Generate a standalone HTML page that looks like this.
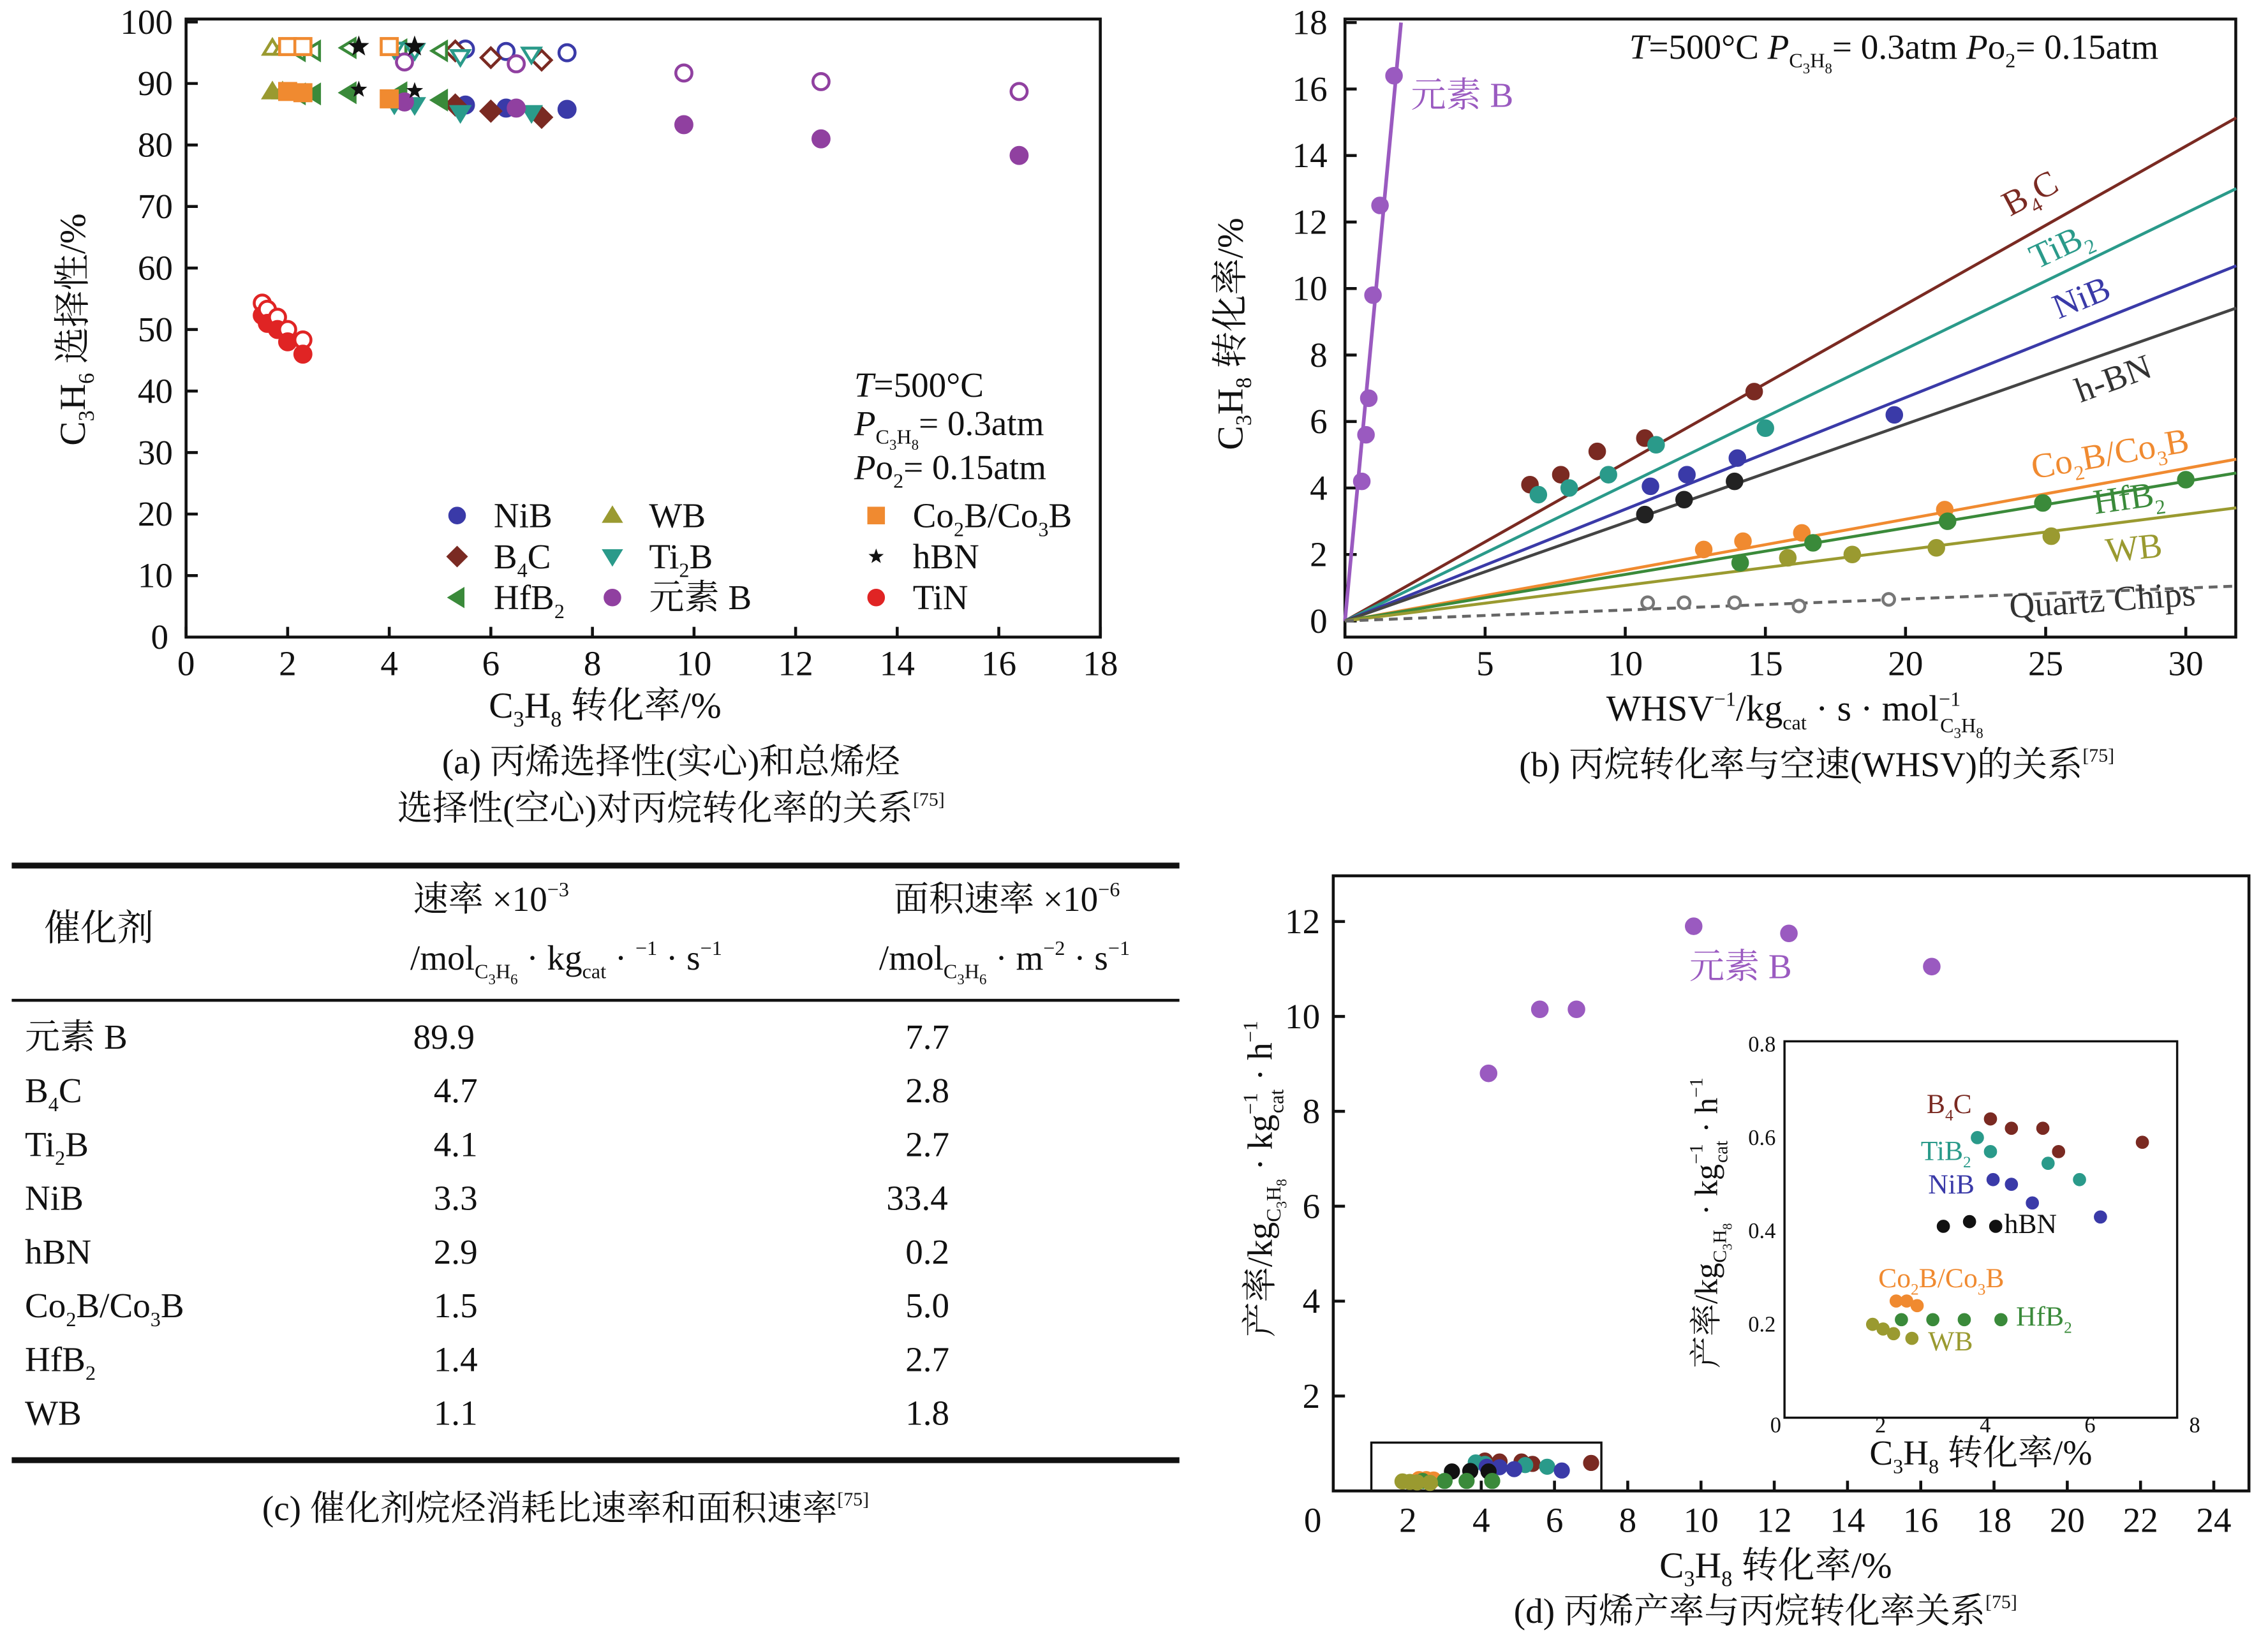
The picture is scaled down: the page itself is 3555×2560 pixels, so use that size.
<!DOCTYPE html>
<html><head><meta charset="utf-8">
<style>
html,body{margin:0;padding:0;background:#fff;}
svg{display:block;}
text{font-family:"Liberation Serif","Noto Serif CJK SC",serif;fill:#111;}
</style></head>
<body>
<svg id="fig" width="3555" height="2560" viewBox="0 0 1548 1115" preserveAspectRatio="none" xmlns="http://www.w3.org/2000/svg">
<rect width="1548" height="1115" fill="#fff"/>

<!-- ===== Panel A ===== -->
<g id="pa">
<rect x="127" y="13" width="624" height="422" fill="none" stroke="#111" stroke-width="2"/>
<g id="pa-axes" font-size="24"></g>
<g id="pa-marks"></g>
<text transform="translate(58,225) rotate(-90)" text-anchor="middle" font-size="25">C<tspan font-size="15" dy="6">3</tspan><tspan dy="-6">H</tspan><tspan font-size="15" dy="6">6</tspan><tspan dy="-6"> 选择性/%</tspan></text>
<text x="413" y="490" text-anchor="middle" font-size="25">C<tspan font-size="15" dy="6">3</tspan><tspan dy="-6">H</tspan><tspan font-size="15" dy="6">8</tspan><tspan dy="-6"> 转化率/%</tspan></text>
<g font-size="24" font-style="normal">
<text x="583" y="271"><tspan font-style="italic">T</tspan>=500°C</text>
<text x="583" y="297"><tspan font-style="italic">P</tspan><tspan font-size="14" dy="6">C</tspan><tspan font-size="10" dy="4">3</tspan><tspan font-size="14" dy="-4">H</tspan><tspan font-size="10" dy="4">8</tspan><tspan dy="-10">= 0.3atm</tspan></text>
<text x="583" y="327"><tspan font-style="italic">P</tspan>o<tspan font-size="14" dy="6">2</tspan><tspan dy="-6">= 0.15atm</tspan></text>
</g>
<g id="pa-legend" font-size="24"></g>
<text x="458" y="528" text-anchor="middle" font-size="24">(a) 丙烯选择性(实心)和总烯烃</text>
<text x="458" y="560" text-anchor="middle" font-size="24">选择性(空心)对丙烷转化率的关系<tspan font-size="13" dy="-10">[75]</tspan></text>
</g>

<!-- ===== Panel B ===== -->
<g id="pb">
<rect x="918" y="13" width="608" height="422" fill="none" stroke="#111" stroke-width="2"/>
<g id="pb-axes" font-size="24"></g>
<g id="pb-marks"></g>
<text x="1112" y="40" font-size="24"><tspan font-style="italic">T</tspan>=500°C <tspan font-style="italic">P</tspan><tspan font-size="14" dy="6">C</tspan><tspan font-size="10" dy="4">3</tspan><tspan font-size="14" dy="-4">H</tspan><tspan font-size="10" dy="4">8</tspan><tspan dy="-10">= 0.3atm </tspan><tspan font-style="italic">P</tspan>o<tspan font-size="14" dy="6">2</tspan><tspan dy="-6">= 0.15atm</tspan></text>
<text transform="translate(848,228) rotate(-90)" text-anchor="middle" font-size="25">C<tspan font-size="15" dy="6">3</tspan><tspan dy="-6">H</tspan><tspan font-size="15" dy="6">8</tspan><tspan dy="-6"> 转化率/%</tspan></text>
<text x="1225" y="492" text-anchor="middle" font-size="25">WHSV<tspan font-size="14" dy="-10">−1</tspan><tspan dy="10">/kg</tspan><tspan font-size="14" dy="6">cat</tspan><tspan dy="-6"> · s · mol</tspan><tspan font-size="14" dy="-10">−1</tspan><tspan font-size="14" dx="-14" dy="18">C</tspan><tspan font-size="10" dy="4">3</tspan><tspan font-size="14" dy="-4">H</tspan><tspan font-size="10" dy="4">8</tspan></text>
<text x="1240" y="530" text-anchor="middle" font-size="24">(b) 丙烷转化率与空速(WHSV)的关系<tspan font-size="13" dy="-10">[75]</tspan></text>
</g>

<!-- ===== Table C ===== -->
<g id="pc">
<rect x="8" y="589" width="797" height="4" fill="#111"/>
<rect x="8" y="682" width="797" height="2" fill="#111"/>
<rect x="8" y="995" width="797" height="4" fill="#111"/>
<text x="30" y="642" font-size="25">催化剂</text>
<text x="282" y="622" font-size="24">速率 ×10<tspan font-size="14" dy="-10">−3</tspan></text>
<text x="280" y="662" font-size="24">/mol<tspan font-size="14" dy="6">C</tspan><tspan font-size="10" dy="4">3</tspan><tspan font-size="14" dy="-4">H</tspan><tspan font-size="10" dy="4">6</tspan><tspan dy="-10"> · kg</tspan><tspan font-size="14" dy="6">cat</tspan><tspan dy="-6"> · </tspan><tspan font-size="14" dy="-10">−1</tspan><tspan dy="10"> · s</tspan><tspan font-size="14" dy="-10">−1</tspan></text>
<text x="610" y="622" font-size="24">面积速率 ×10<tspan font-size="14" dy="-10">−6</tspan></text>
<text x="600" y="662" font-size="24">/mol<tspan font-size="14" dy="6">C</tspan><tspan font-size="10" dy="4">3</tspan><tspan font-size="14" dy="-4">H</tspan><tspan font-size="10" dy="4">6</tspan><tspan dy="-10"> · m</tspan><tspan font-size="14" dy="-10">−2</tspan><tspan dy="10"> · s</tspan><tspan font-size="14" dy="-10">−1</tspan></text>
<g id="pc-rows" font-size="24"></g>
<text x="386" y="1038" text-anchor="middle" font-size="24">(c) 催化剂烷烃消耗比速率和面积速率<tspan font-size="13" dy="-10">[75]</tspan></text>
</g>

<!-- ===== Panel D ===== -->
<g id="pd">
<rect x="910" y="598" width="625" height="420" fill="none" stroke="#111" stroke-width="2"/>
<g id="pd-axes" font-size="24"></g>
<rect x="936" y="985" width="157" height="33" fill="none" stroke="#111" stroke-width="1.5"/>
<g id="pd-marks"></g>
<text x="1153" y="668" font-size="24" fill="#9a5ac0" style="fill:#9a5ac0">元素 B</text>
<rect x="1218" y="711" width="268" height="257" fill="none" stroke="#111" stroke-width="1.5"/>
<g id="pd-inset-axes" font-size="15"></g>
<g id="pd-inset-marks"></g>
<text transform="translate(868,805) rotate(-90)" text-anchor="middle" font-size="24">产率/kg<tspan font-size="14" dy="6">C</tspan><tspan font-size="10" dy="4">3</tspan><tspan font-size="14" dy="-4">H</tspan><tspan font-size="10" dy="4">8</tspan><tspan dy="-10"> · kg</tspan><tspan font-size="14" dy="-10">−1</tspan><tspan font-size="14" dx="-14" dy="18">cat</tspan><tspan dy="-8"> · h</tspan><tspan font-size="14" dy="-10">−1</tspan></text>
<text transform="translate(1172,835) rotate(-90)" text-anchor="middle" font-size="22">产率/kg<tspan font-size="13" dy="6">C</tspan><tspan font-size="9" dy="4">3</tspan><tspan font-size="13" dy="-4">H</tspan><tspan font-size="9" dy="4">8</tspan><tspan dy="-10"> · kg</tspan><tspan font-size="13" dy="-10">−1</tspan><tspan font-size="13" dx="-13" dy="17">cat</tspan><tspan dy="-7"> · h</tspan><tspan font-size="13" dy="-10">−1</tspan></text>
<text x="1352" y="1000" text-anchor="middle" font-size="24">C<tspan font-size="14" dy="6">3</tspan><tspan dy="-6">H</tspan><tspan font-size="14" dy="6">8</tspan><tspan dy="-6"> 转化率/%</tspan></text>
<text x="1212" y="1077" text-anchor="middle" font-size="25">C<tspan font-size="15" dy="6">3</tspan><tspan dy="-6">H</tspan><tspan font-size="15" dy="6">8</tspan><tspan dy="-6"> 转化率/%</tspan></text>
<text x="1205" y="1108" text-anchor="middle" font-size="24">(d) 丙烯产率与丙烷转化率关系<tspan font-size="13" dy="-10">[75]</tspan></text>
</g>
</svg>

<script>
// ---------- Panel A data ----------
const aNames = ["NiB","B4C","HfB2","WB","TiB","元素B","Co2B","hBN","TiN"];
const aX_NiB=[5.5,6.3,7.5], aSolid_NiB=[86.5,86.0,85.8], aHollow_NiB=[95.6,95.2,95.0];
const aX_B4C=[5.3,6.0,7.0], aSolid_B4C=[86.5,85.5,84.5], aHollow_B4C=[95.3,94.2,93.8];
const aX_HfB2=[2.2,2.5,3.2,4.2,5.0], aSolid_HfB2=[88.3,88.3,88.5,88.5,87.3], aHollow_HfB2=[95.3,95.3,95.8,95.5,95.3];
const aX_WB=[1.7,1.9], aSolid_WB=[88.7,88.7], aHollow_WB=[95.8,95.8];
const aX_TiB=[4.1,4.5,5.4,6.8], aSolid_TiB=[86.6,86.5,85.2,85.2], aHollow_TiB=[95.5,95.3,94.3,94.7];
const aX_B=[4.3,6.5,9.8,12.5,16.4], aSolid_B=[87.0,86.0,83.3,81.0,78.3], aHollow_B=[93.5,93.2,91.7,90.3,88.7];
const aX_Co2B=[2.0,2.3,4.0], aSolid_Co2B=[88.7,88.5,87.5], aHollow_Co2B=[96.0,96.0,96.0];
const aX_hBN=[3.4,4.5], aSolid_hBN=[89.0,88.8], aHollow_hBN=[96.0,96.0];
const aX_TiN=[1.5,1.6,1.8,2.0,2.3], aSolid_TiN=[52.3,51.0,50.0,48.0,46.0], aHollow_TiN=[54.3,53.3,52.0,50.0,48.3];
const aXTicks=[0,2,4,6,8,10,12,14,16,18], aYTicks=[0,10,20,30,40,50,60,70,80,90,100];

// ---------- Panel B data ----------
const bX_B=[0.6,0.75,0.85,1.0,1.25,1.75], bY_B=[4.2,5.6,6.7,9.8,12.5,16.4];
const bX_B4C=[6.6,7.7,9.0,10.7,14.6], bY_B4C=[4.1,4.4,5.1,5.5,6.9];
const bX_TiB2=[6.9,8.0,9.4,11.1,15.0], bY_TiB2=[3.8,4.0,4.4,5.3,5.8];
const bX_NiB=[10.9,12.2,14.0,19.6], bY_NiB=[4.05,4.4,4.9,6.2];
const bX_hBN=[10.7,12.1,13.9], bY_hBN=[3.2,3.65,4.2];
const bX_Co2B=[12.8,14.2,16.3,21.4], bY_Co2B=[2.15,2.4,2.65,3.35];
const bX_HfB2=[14.1,16.7,21.5,24.9,30.0], bY_HfB2=[1.75,2.35,3.0,3.55,4.25];
const bX_WB=[15.8,18.1,21.1,25.2], bY_WB=[1.9,2.0,2.2,2.55];
const bX_Q=[10.8,12.1,13.9,16.2,19.4], bY_Q=[0.55,0.55,0.55,0.45,0.65];
const bSlopes=[9.0,0.476,0.409,0.336,0.296,0.153,0.14,0.107,0.033]; // B,B4C,TiB2,NiB,hBN,Co2B,HfB2,WB,Quartz
const bXTicks=[0,5,10,15,20,25,30], bYTicks=[0,2,4,6,8,10,12,14,16,18];

// ---------- Table C data ----------
const cCatalysts=["元素 B","B4C","Ti2B","NiB","hBN","Co2B/Co3B","HfB2","WB"];
const cRates=["89.9","4.7","4.1","3.3","2.9","1.5","1.4","1.1"];
const cAreaRates=["7.7","2.8","2.7","33.4","0.2","5.0","2.7","1.8"];

// ---------- Panel D data ----------
const dX_B=[4.2,5.6,6.6,9.8,12.4,16.3], dY_B=[8.8,10.15,10.15,11.9,11.75,11.05];
const iX_B4C=[4.1,4.5,5.1,5.4,7.0], iY_B4C=[0.64,0.62,0.62,0.57,0.59];
const iX_TiB2=[3.85,4.1,5.2,5.8], iY_TiB2=[0.60,0.57,0.545,0.51];
const iX_NiB=[4.15,4.5,4.9,6.2], iY_NiB=[0.51,0.50,0.46,0.43];
const iX_hBN=[3.2,3.7,4.2], iY_hBN=[0.41,0.42,0.41];
const iX_Co2B=[2.3,2.5,2.7], iY_Co2B=[0.25,0.25,0.24];
const iX_HfB2=[2.4,3.0,3.6,4.3], iY_HfB2=[0.21,0.21,0.21,0.21];
const iX_WB=[1.85,2.05,2.25,2.6], iY_WB=[0.20,0.19,0.18,0.17];
const dXTicks=[0,2,4,6,8,10,12,14,16,18,20,22,24], dYTicks=[2,4,6,8,10,12];
const iXTicks=[0,2,4,6,8], iYTicks=[0.2,0.4,0.6,0.8];

// ---------- helpers ----------
const NS="http://www.w3.org/2000/svg";
function mk(tag,attrs,parent){const e=document.createElementNS(NS,tag);for(const k in attrs)e.setAttribute(k,attrs[k]);parent.appendChild(e);return e;}
const C={NiB:"#3a3aa8",B4C:"#7a2a22",HfB2:"#3a8a3a",WB:"#9a9a30",TiB:"#2a9a8a",B:"#9040a0",Bl:"#9a5ac0",Co2B:"#f08a30",hBN:"#111",TiN:"#e02424"};

function marker(g,shape,x,y,col,filled,r){
  r=r||5.5; const f=filled?col:"#fff"; const sw=filled?0:2; let e;
  if(shape==="circle") e=mk("circle",{cx:x,cy:y,r:r,fill:f,stroke:col,"stroke-width":sw||2},g);
  else if(shape==="square") e=mk("rect",{x:x-r,y:y-r,width:2*r,height:2*r,fill:f,stroke:col,"stroke-width":sw||2},g);
  else if(shape==="diamond") e=mk("polygon",{points:`${x},${y-r*1.2} ${x+r*1.2},${y} ${x},${y+r*1.2} ${x-r*1.2},${y}`,fill:f,stroke:col,"stroke-width":sw||2},g);
  else if(shape==="up") e=mk("polygon",{points:`${x},${y-r} ${x+r*1.1},${y+r*0.8} ${x-r*1.1},${y+r*0.8}`,fill:f,stroke:col,"stroke-width":sw||2},g);
  else if(shape==="down") e=mk("polygon",{points:`${x},${y+r} ${x+r*1.1},${y-r*0.8} ${x-r*1.1},${y-r*0.8}`,fill:f,stroke:col,"stroke-width":sw||2},g);
  else if(shape==="left") e=mk("polygon",{points:`${x-r},${y} ${x+r*0.8},${y-r*1.1} ${x+r*0.8},${y+r*1.1}`,fill:f,stroke:col,"stroke-width":sw||2},g);
  else {
    let p=[];for(let i=0;i<10;i++){const a=-Math.PI/2+i*Math.PI/5;const rr=i%2?r*0.45:r*1.1;p.push((x+rr*Math.cos(a)).toFixed(1)+","+(y+rr*Math.sin(a)).toFixed(1));}
    e=mk("polygon",{points:p.join(" "),fill:col,stroke:col,"stroke-width":filled?0:1},g);
  }
  return e;
}

// ---------- Panel A ----------
const axA=x=>127+x*34.67, ayA=y=>435-y*4.2;
(function(){
  const g=document.getElementById("pa-axes");
  aXTicks.forEach(v=>{
    const l=mk("line",{x1:axA(v),x2:axA(v),y1:435,y2:428,stroke:"#111","stroke-width":2},g);
    
    
    const t=mk("text",{x:axA(v),y:461,"text-anchor":"middle"},g);t.textContent=v;
    
    
  });
  aYTicks.forEach(v=>{
    const l=mk("line",{x1:127,x2:135,y1:ayA(v),y2:ayA(v),stroke:"#111","stroke-width":2},g);
    
    
    const t=mk("text",{x:v===0?115:118,y:ayA(v)+8,"text-anchor":"end"},g);t.textContent=v;
    
    
  });
  const m=document.getElementById("pa-marks");
  const sets=[["circle",C.NiB,aX_NiB,aSolid_NiB,aHollow_NiB],["diamond",C.B4C,aX_B4C,aSolid_B4C,aHollow_B4C],
    ["left",C.HfB2,aX_HfB2,aSolid_HfB2,aHollow_HfB2],["up",C.WB,aX_WB,aSolid_WB,aHollow_WB],
    ["down",C.TiB,aX_TiB,aSolid_TiB,aHollow_TiB],["circle",C.B,aX_B,aSolid_B,aHollow_B],
    ["square",C.Co2B,aX_Co2B,aSolid_Co2B,aHollow_Co2B],["star",C.hBN,aX_hBN,aSolid_hBN,aHollow_hBN],
    ["circle",C.TiN,aX_TiN,aSolid_TiN,aHollow_TiN]];
  sets.forEach(s=>{
    s[2].forEach((x,i)=>{
      const h=marker(m,s[0],axA(x),ayA(s[4][i]),s[1],false);
      
      
      const p=marker(m,s[0],axA(x),ayA(s[3][i]),s[1],true);
      
      
    });
  });
  const lg=document.getElementById("pa-legend");
  const leg=[[312,352,"circle",C.NiB,"NiB"],[312,380,"diamond",C.B4C,"B<tspan font-size='14' dy='6'>4</tspan><tspan dy='-6'>C</tspan>"],
    [312,408,"left",C.HfB2,"HfB<tspan font-size='14' dy='6'>2</tspan>"],[418,352,"up",C.WB,"WB"],
    [418,380,"down",C.TiB,"Ti<tspan font-size='14' dy='6'>2</tspan><tspan dy='-6'>B</tspan>"],[418,408,"circle",C.B,"元素 B"],
    [598,352,"square",C.Co2B,"Co<tspan font-size='14' dy='6'>2</tspan><tspan dy='-6'>B/Co</tspan><tspan font-size='14' dy='6'>3</tspan><tspan dy='-6'>B</tspan>"],
    [598,380,"star",C.hBN,"hBN"],[598,408,"circle",C.TiN,"TiN"]];
  leg.forEach(L=>{
    const mm=marker(lg,L[2],L[0],L[1],L[3],true,5);
    
    
    const t=mk("text",{x:L[0]+25,y:L[1]+8},lg);t.innerHTML=L[4];
    
    
  });
})();

// ---------- Panel B ----------
const axB=x=>918+x*19.13, ayB=y=>424-y*22.7;
(function(){
  const g=document.getElementById("pb-axes");
  bXTicks.forEach(v=>{
    const l=mk("line",{x1:axB(v),x2:axB(v),y1:435,y2:428,stroke:"#111","stroke-width":2},g);
    
    
    const t=mk("text",{x:axB(v),y:461,"text-anchor":"middle"},g);t.textContent=v;
    
    
  });
  bYTicks.forEach(v=>{
    const l=mk("line",{x1:918,x2:926,y1:ayB(v),y2:ayB(v),stroke:"#111","stroke-width":2},g);
    
    
    const t=mk("text",{x:906,y:ayB(v)+8,"text-anchor":"end"},g);t.textContent=v;
    
    
  });
  const m=document.getElementById("pb-marks");
  const cols=[C.Bl,C.B4C,C.TiB,C.NiB,"#444",C.Co2B,C.HfB2,C.WB,"#666"];
  bSlopes.forEach((s,i)=>{
    const xe=Math.min(31.8,18/s);
    const l=mk("line",{x1:axB(0),y1:ayB(0),x2:axB(xe),y2:ayB(s*xe),stroke:cols[i],"stroke-width":i===0?2.5:2,"stroke-dasharray":i===8?"6,4":"none"},m);
    
    
  });
  const pts=[[bX_B,bY_B,C.Bl],[bX_B4C,bY_B4C,C.B4C],[bX_TiB2,bY_TiB2,C.TiB],[bX_NiB,bY_NiB,C.NiB],[bX_hBN,bY_hBN,"#222"],
    [bX_Co2B,bY_Co2B,C.Co2B],[bX_HfB2,bY_HfB2,C.HfB2],[bX_WB,bY_WB,C.WB]];
  pts.forEach(p=>p[0].forEach((x,i)=>{
    const c=marker(m,"circle",axB(x),ayB(p[1][i]),p[2],true,5);
    
    
  }));
  bX_Q.forEach((x,i)=>{
    const c=marker(m,"circle",axB(x),ayB(bY_Q[i]),"#777",false,4);
    
    
  });
  const labs=[[963,73,C.Bl,"元素 B",0],[1372,148,C.B4C,"B<tspan font-size='14' dy='6'>4</tspan><tspan dy='-6'>C</tspan>",-28],
    [1390,184,C.TiB,"TiB<tspan font-size='14' dy='6'>2</tspan>",-25],[1405,218,C.NiB,"NiB",-22],[1420,275,"#333","h-BN",-20],
    [1388,327,C.Co2B,"Co<tspan font-size='14' dy='6'>2</tspan><tspan dy='-6'>B/Co</tspan><tspan font-size='14' dy='6'>3</tspan><tspan dy='-6'>B</tspan>",-10],
    [1430,351,C.HfB2,"HfB<tspan font-size='14' dy='6'>2</tspan>",-8],[1438,384,C.WB,"WB",-6],[1372,422,"#333","Quartz Chips",-4]];
  labs.forEach(L=>{
    const t=mk("text",{x:L[0],y:L[1],"font-size":24,style:"fill:"+L[2],transform:`rotate(${L[4]},${L[0]},${L[1]})`},m);t.innerHTML=L[3];
    
    
  });
})();

// ---------- Table C ----------
(function(){
  const g=document.getElementById("pc-rows");
  const sub=s=>{let out="",low=false;for(const ch of s){const d=/[0-9]/.test(ch);
    if(d&&!low){out+=`<tspan font-size='14' dy='6'>${ch}</tspan>`;low=true;}
    else if(!d&&low){out+=`<tspan dy='-6'>${ch}</tspan>`;low=false;}
    else out+=ch;}return out;};
  cCatalysts.forEach((c,i)=>{
    const y=716+i*36.7;
    const a=mk("text",{x:17,y:y},g);a.innerHTML=sub(c);
    
    
    const b=mk("text",{x:i===0?282:296,y:y},g);b.textContent=cRates[i];
    
    
    const d=mk("text",{x:cAreaRates[i].length>3?605:618,y:y},g);d.textContent=cAreaRates[i];
    
    
  });
})();

// ---------- Panel D ----------
const axD=x=>911+x*25, ayD=y=>1018-y*32.4;
const axI=x=>1212+x*35.75, ayI=y=>968-y*318.75;
(function(){
  const g=document.getElementById("pd-axes");
  dXTicks.forEach(v=>{
    if(v>0){const l=mk("line",{x1:axD(v),x2:axD(v),y1:1018,y2:1011,stroke:"#111","stroke-width":2},g);
    
    }
    const t=mk("text",{x:v===0?896:axD(v),y:1046,"text-anchor":"middle"},g);t.textContent=v;
    
    
  });
  dYTicks.forEach(v=>{
    const l=mk("line",{x1:910,x2:918,y1:ayD(v),y2:ayD(v),stroke:"#111","stroke-width":2},g);
    
    
    const t=mk("text",{x:901,y:ayD(v)+8,"text-anchor":"end"},g);t.textContent=v;
    
    
  });
  const ig=document.getElementById("pd-inset-axes");
  iXTicks.forEach(v=>{
    const t=mk("text",{x:axI(v),y:978,"text-anchor":"middle"},ig);t.textContent=v;
    
    
  });
  iYTicks.forEach(v=>{
    const t=mk("text",{x:1212,y:ayI(v)+5,"text-anchor":"end"},ig);t.textContent=v.toFixed(1);
    
    
  });
  const m=document.getElementById("pd-marks");
  dX_B.forEach((x,i)=>{
    const c=marker(m,"circle",axD(x),ayD(dY_B[i]),C.Bl,true,5);
    
    
  });
  const im=document.getElementById("pd-inset-marks");
  const sets=[[iX_B4C,iY_B4C,C.B4C],[iX_TiB2,iY_TiB2,C.TiB],[iX_NiB,iY_NiB,C.NiB],[iX_hBN,iY_hBN,"#111"],
    [iX_Co2B,iY_Co2B,C.Co2B],[iX_HfB2,iY_HfB2,C.HfB2],[iX_WB,iY_WB,C.WB]];
  sets.forEach(s=>s[0].forEach((x,i)=>{
    const c=marker(im,"circle",axI(x),ayI(s[1][i]),s[2],true,3.5);
    
    
    const c2=marker(m,"circle",axD(x),ayD(s[1][i]),s[2],true,4.5);
    
    
  }));
  const labs=[[1315,760,C.B4C,"B<tspan font-size='11' dy='5'>4</tspan><tspan dy='-5'>C</tspan>"],[1311,792,C.TiB,"TiB<tspan font-size='11' dy='5'>2</tspan>"],
    [1316,815,C.NiB,"NiB"],[1368,842,"#111","hBN"],[1282,879,C.Co2B,"Co<tspan font-size='11' dy='5'>2</tspan><tspan dy='-5'>B/Co</tspan><tspan font-size='11' dy='5'>3</tspan><tspan dy='-5'>B</tspan>"],
    [1376,905,C.HfB2,"HfB<tspan font-size='11' dy='5'>2</tspan>"],[1316,922,C.WB,"WB"]];
  labs.forEach(L=>{
    const t=mk("text",{x:L[0],y:L[1],"font-size":19,style:"fill:"+L[2]},im);t.innerHTML=L[3];
    
    
  });
})();
</script>
</body></html>
